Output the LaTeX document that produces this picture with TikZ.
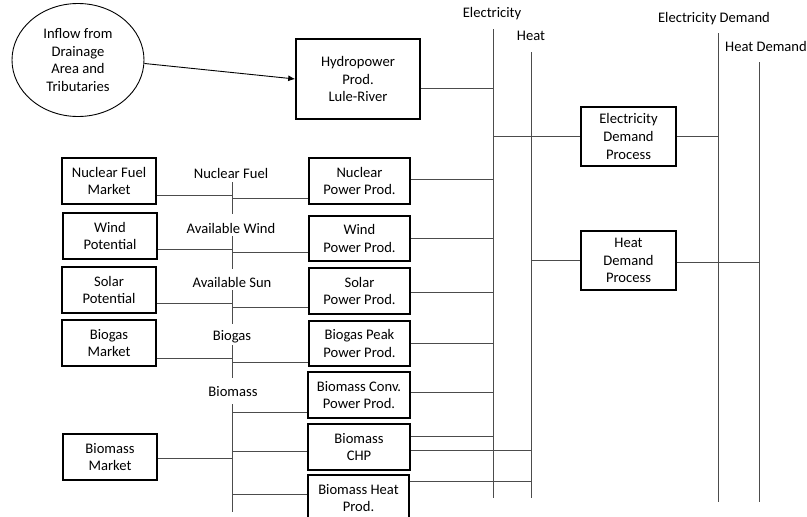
\documentclass[tikz,border=0pt]{standalone}
\usepackage{fontspec}
\setmainfont{Carlito}
\usetikzlibrary{arrows.meta,shapes.geometric,calc}
\tikzset{
  box/.style={draw=black,line width=1.6pt,rectangle,align=center,inner sep=0pt,
    minimum width=#1,minimum height=46pt},
  box/.default=94pt,
  conn/.style={draw=black!70,line width=0.9pt},
  lbl/.style={inner sep=0pt,align=center},
  every node/.style={font=\fontsize{14.6}{17.6}\selectfont}
}
\begin{document}
\begin{tikzpicture}[x=1pt,y=-1pt]
\useasboundingbox (0,0) rectangle (807,517);
\clip (0,0) rectangle (807,517);
% main nodes
\node[draw=black,line width=0.9pt,ellipse,minimum width=132pt,minimum height=113pt,inner sep=0pt,align=center] (inflow) at (78,60)
  {Inflow from\\Drainage\\Area and\\Tributaries};
\node[box=124pt,minimum height=80pt] (hydro) at (358,79) {Hydropower\\Prod.\\Lule-River};
\node[box=95pt,minimum height=59pt] (edp) at (628.5,136.5) {Electricity\\Demand\\Process};
\node[box=95pt,minimum height=59pt] (hdp) at (628.5,260.5) {Heat\\Demand\\Process};
% left column
\node[box] (nfm) at (109,181) {Nuclear Fuel\\Market};
\node[box] (wp)  at (110,236) {Wind\\Potential};
\node[box] (sp)  at (109,290) {Solar\\Potential};
\node[box] (bgm) at (109,343) {Biogas\\Market};
\node[box] (bmm) at (110,457) {Biomass\\Market};
% right column
\node[box=101pt] (npp) at (359.5,181) {Nuclear\\Power Prod.};
\node[box=101pt,minimum height=45pt] (wpp) at (359.5,238.5) {Wind\\Power Prod.};
\node[box=101pt] (spp) at (359.5,291) {Solar\\Power Prod.};
\node[box=101pt,minimum height=45pt] (bpp) at (359.5,343.5) {Biogas Peak\\Power Prod.};
\node[box=102pt] (bcp) at (359,395) {Biomass Conv.\\Power Prod.};
\node[box=102pt] (chp) at (359,447) {Biomass\\CHP};
\node[box=101pt] (bhp) at (358.5,498) {Biomass Heat\\Prod.};
% bus labels
\node[lbl] (lElec) at (492,14) {Electricity};
\node[lbl] (lHeat) at (531,36) {Heat};
\node[lbl] (lEDem) at (714,19) {Electricity Demand};
\node[lbl] (lHDem) at (766,46) {Heat Demand};
% middle labels
\node[lbl] (lNF) at (231,173) {Nuclear Fuel};
\node[lbl] (lAW) at (231,228) {Available Wind};
\node[lbl] (lAS) at (232,282) {Available Sun};
\node[lbl] (lBG) at (232,337) {Biogas};
\node[lbl] (lBM) at (233,392) {Biomass};
% bus coordinates
\coordinate (eT) at (493,29);  \coordinate (eB) at (493,498);
\coordinate (hT) at (531,52);  \coordinate (hB) at (531,498);
\coordinate (edT) at (718,33); \coordinate (edB) at (718,502);
\coordinate (hdT) at (759,62); \coordinate (hdB) at (759,502);
\draw[conn] (eT) -- (eB);
\draw[conn] (hT) -- (hB);
\draw[conn] (edT) -- (edB);
\draw[conn] (hdT) -- (hdB);
% short junction lines
\coordinate (nfT) at (232,182); \coordinate (nfB) at (232,214);
\coordinate (awT) at (232,236); \coordinate (awB) at (232,269);
\coordinate (asT) at (232,290); \coordinate (asB) at (232,324);
\coordinate (bgT) at (232,345); \coordinate (bgB) at (232,378);
\coordinate (bmT) at (232,404); \coordinate (bmB) at (232,512);
\draw[conn] (nfT) -- (nfB);
\draw[conn] (awT) -- (awB);
\draw[conn] (asT) -- (asB);
\draw[conn] (bgT) -- (bgB);
\draw[conn] (bmT) -- (bmB);
% arrow
\draw[line width=0.9pt,-{Latex[length=7pt,width=6pt]}] (inflow.-3) -- (hydro.west);
% to electricity bus
\draw[conn] ([yshift=-9pt]hydro.east) -- ([yshift=-9pt]hydro.east -| eT);
\draw[conn] ([yshift=2pt]npp.east) -- ([yshift=2pt]npp.east -| eT);
\draw[conn] (wpp.east) -- (wpp.east -| eT);
\draw[conn] ([yshift=-1pt]spp.east) -- ([yshift=-1pt]spp.east -| eT);
\draw[conn] (bpp.east) -- (bpp.east -| eT);
\draw[conn] ([yshift=3pt]bcp.east) -- ([yshift=3pt]bcp.east -| eT);
\draw[conn] ([yshift=11pt]chp.east) -- ([yshift=11pt]chp.east -| eT);
% to heat bus
\draw[conn] ([yshift=-3pt]chp.east) -- ([yshift=-3pt]chp.east -| hT);
\draw[conn] ([yshift=17pt]bhp.east) -- ([yshift=17pt]bhp.east -| hT);
% demand processes
\draw[conn] (edp.west -| eT) -- (edp.west);
\draw[conn] (edp.east) -- (edp.east -| edT);
\draw[conn] (hdp.west -| hT) -- (hdp.west);
\draw[conn] ([yshift=-2pt]hdp.east) -- ([yshift=-2pt]hdp.east -| hdT);
% left junctions
\draw[conn] ([yshift=-14pt]nfm.east) -- ([yshift=-14pt]nfm.east -| nfT);
\draw[conn] ([yshift=-17pt]npp.west -| nfT) -- ([yshift=-17pt]npp.west);
\draw[conn] ([yshift=-13pt]wp.east) -- ([yshift=-13pt]wp.east -| awT);
\draw[conn] ([yshift=-13.5pt]wpp.west -| awT) -- ([yshift=-13.5pt]wpp.west);
\draw[conn] ([yshift=-13pt]sp.east) -- ([yshift=-13pt]sp.east -| asT);
\draw[conn] ([yshift=-16pt]spp.west -| asT) -- ([yshift=-16pt]spp.west);
\draw[conn] ([yshift=-15pt]bgm.east) -- ([yshift=-15pt]bgm.east -| bgT);
\draw[conn] ([yshift=-18.5pt]bpp.west -| bgT) -- ([yshift=-18.5pt]bpp.west);
\draw[conn] ([yshift=-17pt]bcp.west -| bmT) -- ([yshift=-17pt]bcp.west);
\draw[conn] ([yshift=-1pt]bmm.east) -- ([yshift=-1pt]bmm.east -| bmT);
\draw[conn] ([yshift=-4pt]chp.west -| bmT) -- ([yshift=-4pt]chp.west);
\draw[conn] ([yshift=4pt]bhp.west -| bmT) -- ([yshift=4pt]bhp.west);
\end{tikzpicture}
\end{document}
